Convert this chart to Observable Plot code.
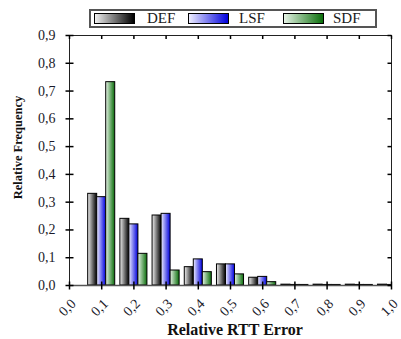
<!DOCTYPE html>
<html><head><meta charset="utf-8">
<script src="https://cdn.jsdelivr.net/npm/d3@7"></script>
<script src="https://cdn.jsdelivr.net/npm/@observablehq/plot@0.6"></script>
<style>
body{margin:0;background:#fff;}
#wrap{position:relative;width:401px;height:339px;}
#legend{position:absolute;left:0;top:0;width:401px;height:30px;font-family:"Liberation Serif",serif;z-index:2;}
#legend .box{position:absolute;left:89px;top:9px;width:284px;height:15px;border:2px solid #555;background:#fff;}
#legend .sw{position:absolute;top:13px;width:39px;height:9px;border:1px solid #000;}
#legend .lab{position:absolute;top:9px;font-size:15px;line-height:18px;color:#1a1a1a;}
#chart{position:absolute;left:0;top:0;}
</style></head><body>
<div id="wrap"><div id="chart"></div><div id="legend"></div></div>
<script>
// Data
const bins = [0.1, 0.2, 0.3, 0.4, 0.5, 0.6, 0.7, 0.8, 0.9, 1.0];
const DEF = [0.330, 0.240, 0.252, 0.066, 0.076, 0.028, 0.003, 0.003, 0.003, 0.003];
const LSF = [0.318, 0.220, 0.258, 0.094, 0.076, 0.031, 0.002, 0.002, 0.002, 0.002];
const SDF = [0.732, 0.114, 0.054, 0.048, 0.040, 0.012, 0.002, 0.002, 0.002, 0.002];
const seriesNames = ["DEF", "LSF", "SDF"];
const gradFrom = ["#f0f0f0", "#eeeeff", "#e6f3e6"];
const gradTo = ["#000000", "#0000dd", "#0a6e0a"];
const yTicks = [0, 0.1, 0.2, 0.3, 0.4, 0.5, 0.6, 0.7, 0.8, 0.9];
const xTicks = [0, 0.1, 0.2, 0.3, 0.4, 0.5, 0.6, 0.7, 0.8, 0.9, 1.0];
const xTitle = "Relative RTT Error";
const yTitle = "Relative Frequency";

const values = [DEF, LSF, SDF];
const barW = 0.028;
const fmt = d => d.toFixed(1).replace(".", ",");

// Legend
const leg = d3.select("#legend");
leg.append("div").attr("class", "box");
const swLeft = [94, 188, 283];
const labLeft = [147, 239, 333];
seriesNames.forEach((s, i) => {
  leg.append("div").attr("class", "sw")
    .style("left", swLeft[i] + "px")
    .style("background", `linear-gradient(to right, ${gradFrom[i]}, ${gradTo[i]})`);
  leg.append("div").attr("class", "lab").style("left", labLeft[i] + "px").text(s);
});

// tick symbols
const len = size => Math.sqrt(size / Math.PI);
const hCross = {draw(c, s) { const r = len(s); c.moveTo(-r, 0); c.lineTo(r, 0); }};
const hLeft = {draw(c, s) { const r = len(s); c.moveTo(-r, 0); c.lineTo(0, 0); }};
const vCross = {draw(c, s) { const r = len(s); c.moveTo(0, -r); c.lineTo(0, r); }};
const vDown = {draw(c, s) { const r = len(s); c.moveTo(0, 0); c.lineTo(0, r); }};

const barMarks = seriesNames.map((s, i) => {
  const rows = bins.map((b, j) => ({bin: b, value: values[i][j]}));
  return Plot.rectY(rows, {
    x1: d => d.bin + (i - 1.5) * barW,
    x2: d => d.bin + (i - 0.5) * barW,
    y: "value",
    fill: `url(#grad-${s})`,
    stroke: "#000",
    strokeWidth: 1,
    clip: true
  });
});

const chart = Plot.plot({
  width: 401,
  height: 339,
  marginTop: 35,
  marginBottom: 54,
  marginLeft: 69,
  marginRight: 10,
  style: {fontFamily: "'Liberation Serif', serif", background: "#fff", color: "#1a1a1a"},
  x: {domain: [0, 1], axis: null},
  y: {domain: [0, 0.9], axis: null},
  marks: [
    ...barMarks,
    Plot.frame({stroke: "#222", strokeWidth: 1}),
    Plot.ruleY([0], {stroke: "#555", strokeWidth: 1.5}),
    Plot.dot(yTicks, {y: d => d, frameAnchor: "left", symbol: hCross, r: 4, stroke: "#000", fill: "none"}),
    Plot.dot(yTicks, {y: d => d, frameAnchor: "right", symbol: hLeft, r: 4, stroke: "#000", fill: "none"}),
    Plot.dot(xTicks, {x: d => d, frameAnchor: "bottom", symbol: vCross, r: 4, stroke: "#000", fill: "none"}),
    Plot.dot(xTicks, {x: d => d, frameAnchor: "top", symbol: vDown, r: 3.5, stroke: "#000", fill: "none"}),
    Plot.text(yTicks, {y: d => d, text: fmt, frameAnchor: "left", textAnchor: "end", lineAnchor: "middle", dx: -14, fontSize: 14, fill: "#1a1a2a"}),
    Plot.text(xTicks, {x: d => d, text: fmt, frameAnchor: "bottom", rotate: -45, textAnchor: "end", lineAnchor: "middle", dx: 4, dy: 16, fontSize: 14, fill: "#1a1a2a"}),
    Plot.text([xTitle], {frameAnchor: "bottom", textAnchor: "middle", lineAnchor: "middle", dx: 4.5, dy: 44, fontSize: 16, fontWeight: "bold", fill: "#111"}),
    Plot.text([yTitle], {frameAnchor: "left", textAnchor: "middle", lineAnchor: "middle", rotate: -90, dx: -52, dy: -13, fontSize: 12.5, fontWeight: "bold", fill: "#111"})
  ]
});

// gradient definitions for the bars
const defs = d3.create("svg:defs");
seriesNames.forEach((s, i) => {
  const g = defs.append("linearGradient").attr("id", `grad-${s}`).attr("x1", "0").attr("x2", "1").attr("y1", "0").attr("y2", "0");
  g.append("stop").attr("offset", "0%").attr("stop-color", gradFrom[i]);
  g.append("stop").attr("offset", "100%").attr("stop-color", gradTo[i]);
});
chart.insertBefore(defs.node(), chart.firstChild);
document.getElementById("chart").appendChild(chart);
</script>
</body></html>
